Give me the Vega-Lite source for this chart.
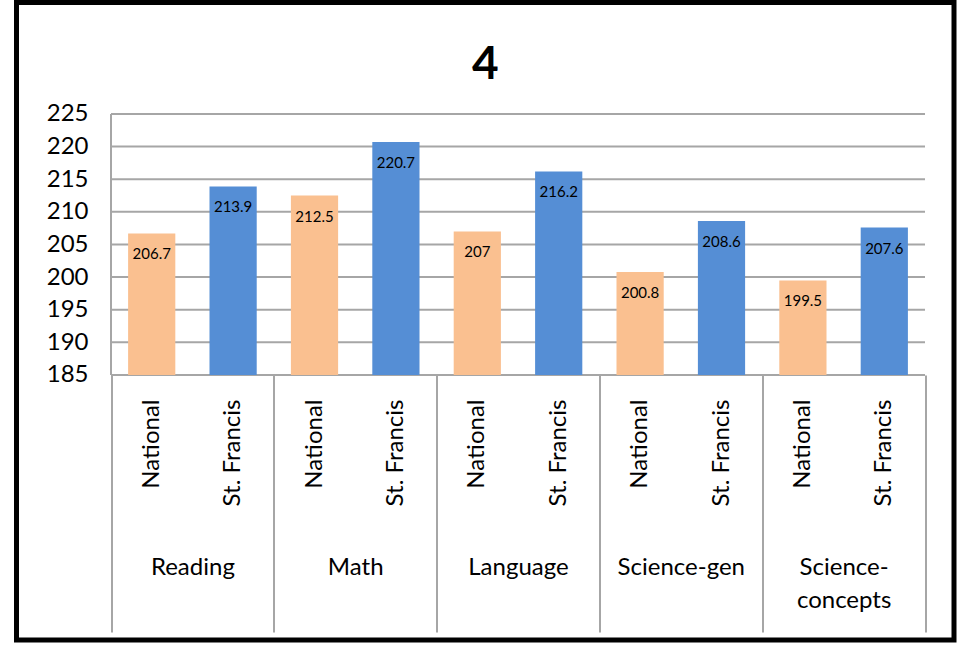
{
  "$schema": "https://vega.github.io/schema/vega-lite/v6.json",
  "autosize": {"type": "none"},
  "width": 937.5,
  "height": 637.5,
  "padding": {"left": 16.5, "top": 2.5, "right": 7, "bottom": 5},
  "background": "white",
  "title": {"text": "4", "fontSize": 46, "fontWeight": "bold", "font": "Lato", "color": "black", "offset": -86, "anchor": "middle", "frame": "bounds"},
  "config": {"view": {"stroke": "black", "strokeWidth": 5}, "font": "Lato"},
  "datasets": {
    "scores": [
      {"subject": "Reading", "group": "National", "key": "Reading|National", "score": 206.7},
      {"subject": "Reading", "group": "St. Francis", "key": "Reading|St. Francis", "score": 213.9},
      {"subject": "Math", "group": "National", "key": "Math|National", "score": 212.5},
      {"subject": "Math", "group": "St. Francis", "key": "Math|St. Francis", "score": 220.7},
      {"subject": "Language", "group": "National", "key": "Language|National", "score": 207},
      {"subject": "Language", "group": "St. Francis", "key": "Language|St. Francis", "score": 216.2},
      {"subject": "Science-gen", "group": "National", "key": "Science-gen|National", "score": 200.8},
      {"subject": "Science-gen", "group": "St. Francis", "key": "Science-gen|St. Francis", "score": 208.6},
      {"subject": "Science-concepts", "group": "National", "key": "Science-concepts|National", "score": 199.5},
      {"subject": "Science-concepts", "group": "St. Francis", "key": "Science-concepts|St. Francis", "score": 207.6}
    ],
    "subjects": [
      {"subject": "Reading"},
      {"subject": "Math"},
      {"subject": "Language"},
      {"subject": "Science-gen"},
      {"subject": "Science-concepts"}
    ],
    "grid": [
      {"v": 185}, {"v": 190}, {"v": 195}, {"v": 200}, {"v": 205},
      {"v": 210}, {"v": 215}, {"v": 220}, {"v": 225}
    ]
  },
  "resolve": {"scale": {"x": "independent"}, "axis": {"x": "independent", "y": "independent"}},
  "layer": [
    {
      "data": {"name": "grid"},
      "mark": {"type": "rule", "color": "#A6A6A6", "strokeWidth": 2},
      "encoding": {
        "x": {
          "datum": "Reading", "type": "nominal", "bandPosition": 0,
          "scale": {"type": "band", "domain": ["Reading", "Math", "Language", "Science-gen", "Science-concepts"], "paddingInner": 0, "paddingOuter": 0.3793, "align": 0.7652},
          "axis": null
        },
        "x2": {"datum": "Science-concepts", "bandPosition": 1},
        "y": {
          "field": "v", "type": "quantitative",
          "scale": {"domain": [144.387, 242.088], "zero": false, "nice": false},
          "axis": null
        }
      }
    },
    {
      "data": {"name": "grid"},
      "mark": {"type": "rule", "color": "#A6A6A6", "strokeWidth": 2},
      "encoding": {
        "x": {
          "datum": "Reading", "type": "nominal", "bandPosition": 0,
          "scale": {"type": "band", "domain": ["Reading", "Math", "Language", "Science-gen", "Science-concepts"], "paddingInner": 0, "paddingOuter": 0.3793, "align": 0.7652},
          "axis": null
        },
        "y": {"datum": 225, "type": "quantitative", "scale": {"domain": [144.387, 242.088], "zero": false, "nice": false}, "axis": null},
        "y2": {"datum": 185}
      }
    },
    {
      "data": {"name": "subjects"},
      "mark": {"type": "rule", "opacity": 0},
      "encoding": {
        "x": {
          "field": "subject", "type": "nominal", "sort": null,
          "scale": {"type": "band", "domain": ["Reading", "Math", "Language", "Science-gen", "Science-concepts"], "paddingInner": 0, "paddingOuter": 0.3793, "align": 0.7652},
          "axis": {
            "orient": "bottom", "offset": -265, "title": null, "labelAngle": 0, "zindex": 1,
            "labelExpr": "datum.value == 'Science-concepts' ? ['Science-', 'concepts'] : datum.value",
            "labelFontSize": 24, "labelColor": "black", "labelPadding": -77, "labelLineHeight": 33,
            "labelOverlap": false, "labelLimit": 300,
            "ticks": true, "tickBand": "extent", "tickSize": 257, "tickColor": "#A6A6A6", "tickWidth": 2,
            "domain": false, "grid": false
          }
        }
      }
    },
    {
      "data": {"name": "scores"},
      "mark": {"type": "bar"},
      "encoding": {
        "x": {
          "field": "key", "type": "nominal", "sort": null,
          "scale": {"type": "band", "paddingInner": 0.42, "paddingOuter": 0.9687, "align": 0.7077},
          "axis": {
            "orient": "bottom", "offset": -265, "title": null, "labelExpr": "split(datum.value, '|')[1]", "zindex": 1,
            "labelAngle": -90, "labelFontSize": 24, "labelColor": "black", "labelPadding": 24,
            "ticks": false, "domain": false, "grid": false, "labelOverlap": false, "labelLimit": 300
          }
        },
        "y": {
          "field": "score", "type": "quantitative",
          "scale": {"domain": [144.387, 242.088], "zero": false, "nice": false},
          "axis": {
            "orient": "left", "offset": -94.5, "title": null, "values": [185, 190, 195, 200, 205, 210, 215, 220, 225], "zindex": 1,
            "labelFontSize": 24, "labelColor": "black", "labelPadding": 23, "labelOverlap": false,
            "ticks": false, "domain": false, "grid": false
          }
        },
        "y2": {"datum": 185},
        "color": {
          "field": "group", "type": "nominal",
          "scale": {"domain": ["National", "St. Francis"], "range": ["#FAC090", "#558ED5"]},
          "legend": null
        }
      }
    },
    {
      "data": {"name": "scores"},
      "mark": {"type": "text", "baseline": "middle", "dy": 21, "fontSize": 15, "color": "black"},
      "encoding": {
        "x": {"field": "key", "type": "nominal", "sort": null, "scale": {"type": "band", "paddingInner": 0.42, "paddingOuter": 0.9687, "align": 0.7077}, "axis": null},
        "y": {"field": "score", "type": "quantitative", "scale": {"domain": [144.387, 242.088], "zero": false, "nice": false}, "axis": null},
        "text": {"field": "score", "type": "quantitative"}
      }
    }
  ]
}
